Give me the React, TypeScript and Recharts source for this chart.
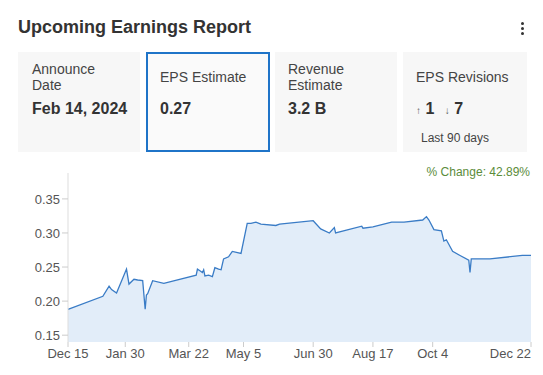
import {Area, AreaChart, XAxis, YAxis} from "recharts";

const dates = [
    "2022-12-15", "2023-01-12", "2023-01-17", "2023-01-19", "2023-01-23", "2023-01-31",
    "2023-02-02", "2023-02-06", "2023-02-09", "2023-02-13", "2023-02-15", "2023-02-16",
    "2023-02-17", "2023-02-21", "2023-03-02", "2023-03-28", "2023-03-29", "2023-04-02",
    "2023-04-03", "2023-04-04", "2023-04-07", "2023-04-10", "2023-04-12", "2023-04-15",
    "2023-04-17", "2023-04-19", "2023-04-23", "2023-04-26", "2023-05-03", "2023-05-08",
    "2023-05-11", "2023-05-15", "2023-05-19", "2023-05-31", "2023-06-03", "2023-06-30",
    "2023-07-06", "2023-07-13", "2023-07-17", "2023-07-18", "2023-08-08", "2023-08-09",
    "2023-08-17", "2023-09-01", "2023-09-11", "2023-09-26", "2023-09-29", "2023-10-01",
    "2023-10-05", "2023-10-11", "2023-10-13", "2023-10-15", "2023-10-20", "2023-10-26",
    "2023-11-02", "2023-11-03", "2023-11-04", "2023-11-19", "2023-12-15", "2023-12-22",
];

const eps = [
    0.188, 0.207, 0.222, 0.217, 0.212, 0.247,
    0.225, 0.232, 0.231, 0.230, 0.188, 0.209,
    0.211, 0.230, 0.226, 0.238, 0.247, 0.242,
    0.246, 0.237, 0.238, 0.236, 0.249, 0.247,
    0.246, 0.262, 0.265, 0.273, 0.270, 0.314,
    0.314, 0.316, 0.313, 0.311, 0.313, 0.318,
    0.306, 0.300, 0.308, 0.300, 0.310, 0.307,
    0.309, 0.316, 0.316, 0.319, 0.324, 0.319,
    0.305, 0.303, 0.288, 0.290, 0.273, 0.267,
    0.260, 0.242, 0.262, 0.262, 0.267, 0.267,
];

const tickDates = ["2022-12-15", "2023-01-30", "2023-03-22", "2023-05-05", "2023-06-30", "2023-08-17", "2023-10-04", "2023-12-22"];
const tickLabels = ["Dec 15", "Jan 30", "Mar 22", "May 5", "Jun 30", "Aug 17", "Oct 4", "Dec 22"];
const yTicks = [0.15, 0.2, 0.25, 0.3, 0.35];

const DAY = 86400000;
const start = Date.parse(dates[0]);
const toDay = (d: string) => Math.round((Date.parse(d) - start) / DAY);

const chartData = dates.map((d, i) => ({day: toDay(d), eps: eps[i]}));
const tickDays = tickDates.map(toDay);
const lastDay = tickDays[tickDays.length - 1];

const FONT = "'Liberation Sans', Arial, sans-serif";

function XTick(props: any) {
    const {x, y, payload} = props;
    const idx = tickDays.indexOf(payload.value);
    const isLast = payload.value === lastDay;
    return (
        <text x={x} y={y} dy="0.71em" textAnchor={isLast ? "end" : "middle"} fill="#555" fontSize={13} fontFamily={FONT}>
            {tickLabels[idx]}
        </text>
    );
}

const card: React.CSSProperties = {
    position: "absolute",
    top: 52,
    height: 100,
    width: 122,
    background: "#f7f7f7",
    boxSizing: "border-box",
};

const label: React.CSSProperties = {position: "absolute", fontSize: 14, color: "#444", lineHeight: "16px"};
const value: React.CSSProperties = {position: "absolute", fontSize: 16, fontWeight: "bold", color: "#333", lineHeight: "18px"};

export default function App() {
    return (
        <div style={{position: "fixed", left: 0, top: 0, width: 543, height: 375, background: "#fff", fontFamily: FONT, overflow: "hidden"}}>
            <div style={{position: "absolute", left: 18, top: 16, fontSize: 18, fontWeight: "bold", color: "#333", lineHeight: "22px"}}>
                Upcoming Earnings Report
            </div>
            {[22, 27, 32].map((t) => (
                <div key={t} style={{position: "absolute", left: 521, top: t, width: 3, height: 3, borderRadius: 2, background: "#333"}} />
            ))}

            <div style={{...card, left: 18}}>
                <div style={{...label, left: 14, top: 9}}>Announce<br />Date</div>
                <div style={{...value, left: 14, top: 48}}>Feb 14, 2024</div>
            </div>
            <div style={{...card, left: 146, width: 124, background: "#fafafa", border: "2px solid #1f74c8"}}>
                <div style={{...label, left: 12, top: 15}}>EPS Estimate</div>
                <div style={{...value, left: 12, top: 46}}>0.27</div>
            </div>
            <div style={{...card, left: 275}}>
                <div style={{...label, left: 13, top: 9}}>Revenue<br />Estimate</div>
                <div style={{...value, left: 13, top: 48}}>3.2 B</div>
            </div>
            <div style={{...card, left: 403, width: 124}}>
                <div style={{...label, left: 13, top: 17}}>EPS Revisions</div>
                <div style={{...value, left: 13, top: 48}}>
                    <span style={{fontSize: 10, fontWeight: "normal", color: "#555"}}>↑</span> 1{" "}
                    <span style={{fontSize: 10, fontWeight: "normal", color: "#555", marginLeft: 6}}>↓</span> 7
                </div>
                <div style={{position: "absolute", left: 18, top: 79, fontSize: 12, color: "#444"}}>Last 90 days</div>
            </div>

            <div style={{position: "absolute", right: 13, top: 165, fontSize: 12, color: "#5b8c3a"}}>% Change: 42.89%</div>

            <div style={{position: "absolute", left: 0, top: 160}}>
                <AreaChart width={543} height={215} data={chartData} margin={{top: 13, right: 12, left: 0, bottom: 3}}>
                    <XAxis
                        dataKey="day"
                        type="number"
                        domain={[0, lastDay]}
                        ticks={tickDays}
                        interval={0}
                        axisLine={false}
                        tickLine={{stroke: "#ccc"}}
                        tickSize={5}
                        height={30}
                        tick={<XTick />}
                    />
                    <YAxis
                        domain={[0.14, 0.388]}
                        ticks={yTicks}
                        width={68}
                        axisLine={{stroke: "#ddd"}}
                        tickLine={{stroke: "#ccc"}}
                        tickFormatter={(v: number) => v.toFixed(2)}
                        tick={{fill: "#555", fontSize: 13, fontFamily: FONT}}
                        allowDataOverflow
                    />
                    <Area
                        type="linear"
                        dataKey="eps"
                        stroke="#3a7cc6"
                        strokeWidth={1.3}
                        fill="#e2edf9"
                        fillOpacity={1}
                        isAnimationActive={false}
                        baseValue="dataMin"
                    />
                </AreaChart>
            </div>
        </div>
    );
}
